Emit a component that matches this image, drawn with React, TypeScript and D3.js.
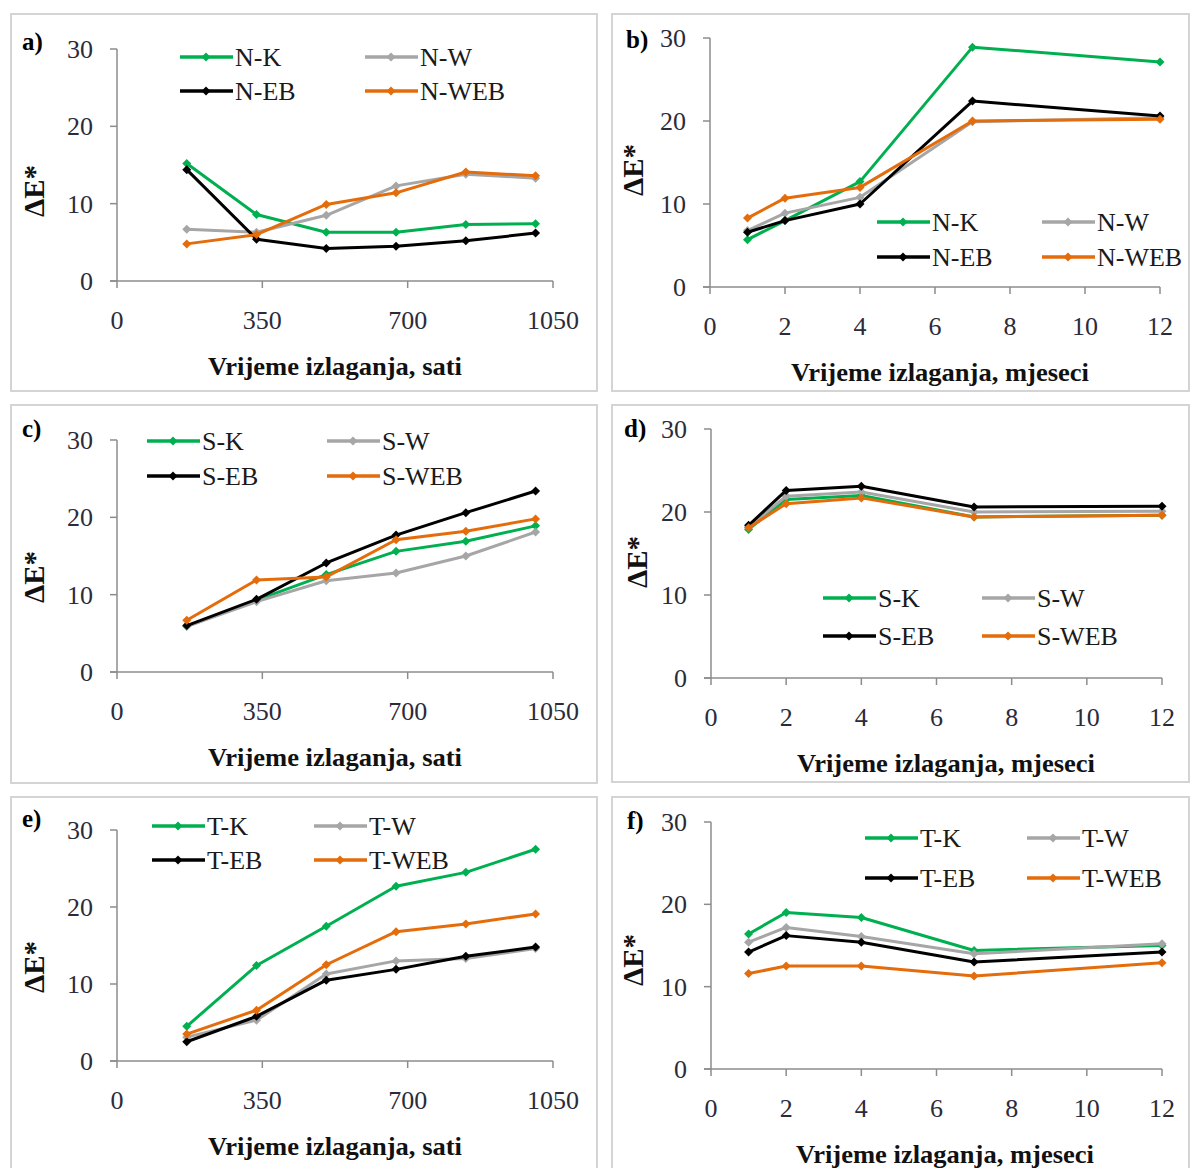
import React from "react";
import * as d3 from "d3";

// ---- data ----
const hours = [168, 336, 504, 672, 840, 1008];
const months = [1, 2, 4, 7, 12];
const hourTicks = [0, 350, 700, 1050];
const monthTicks = [0, 2, 4, 6, 8, 10, 12];
const yTicks = [0, 10, 20, 30];
const suffixes = ["K", "W", "EB", "WEB"];
const colors = ["#00b050", "#a6a6a6", "#000000", "#e46c0a"];

const nK_h = [15.2, 8.6, 6.3, 6.3, 7.3, 7.4];
const nW_h = [6.7, 6.3, 8.5, 12.3, 13.8, 13.3];
const nEB_h = [14.4, 5.4, 4.2, 4.5, 5.2, 6.2];
const nWEB_h = [4.8, 6.0, 9.9, 11.4, 14.1, 13.6];

const nK_m = [5.7, 8.0, 12.7, 28.9, 27.1];
const nW_m = [6.8, 8.9, 10.8, 19.9, 20.4];
const nEB_m = [6.6, 8.0, 10.0, 22.4, 20.6];
const nWEB_m = [8.3, 10.7, 12.0, 20.0, 20.2];

const sK_h = [5.9, 9.3, 12.6, 15.6, 16.9, 18.9];
const sW_h = [5.9, 9.1, 11.8, 12.8, 15.0, 18.1];
const sEB_h = [6.0, 9.4, 14.1, 17.7, 20.6, 23.4];
const sWEB_h = [6.7, 11.9, 12.3, 17.1, 18.2, 19.8];

const sK_m = [17.9, 21.5, 22.0, 19.4, 19.6];
const sW_m = [18.2, 21.9, 22.4, 20.0, 20.1];
const sEB_m = [18.4, 22.6, 23.1, 20.6, 20.7];
const sWEB_m = [18.1, 21.0, 21.7, 19.4, 19.6];

const tK_h = [4.5, 12.4, 17.5, 22.7, 24.5, 27.5];
const tW_h = [3.1, 5.3, 11.3, 13.0, 13.3, 14.6];
const tEB_h = [2.5, 5.8, 10.5, 11.9, 13.6, 14.8];
const tWEB_h = [3.5, 6.6, 12.5, 16.8, 17.8, 19.1];

const tK_m = [16.4, 19.0, 18.4, 14.4, 15.0];
const tW_m = [15.4, 17.2, 16.1, 14.0, 15.2];
const tEB_m = [14.2, 16.2, 15.4, 13.0, 14.2];
const tWEB_m = [11.6, 12.5, 12.5, 11.3, 12.9];

const xTitleHours = "Vrijeme izlaganja, sati";
const xTitleMonths = "Vrijeme izlaganja, mjeseci";
const yTitle = "ΔE*";

// ---- layout ----
type Panel = {
  label: string;
  prefix: string;
  frame: [number, number, number, number];
  xs: number[];
  series: number[][];
  xDomain: [number, number];
  xTicks: number[];
  xRange: [number, number];
  yRange: [number, number];
  xTitle: string;
  titleX: number;
  titleW: number;
  labelPos: [number, number];
  yTitlePos: [number, number];
  legend: [number, number, number, number];
};

const panels: Panel[] = [
  {
    label: "a)", prefix: "N", frame: [11, 14, 597, 391], xs: hours,
    series: [nK_h, nW_h, nEB_h, nWEB_h], xDomain: [0, 1050], xTicks: hourTicks,
    xRange: [117, 553], yRange: [281, 49], xTitle: xTitleHours, titleX: 335, titleW: 254,
    labelPos: [22, 50], yTitlePos: [44, 191], legend: [180, 365, 57, 91],
  },
  {
    label: "b)", prefix: "N", frame: [612, 14, 1189, 391], xs: months,
    series: [nK_m, nW_m, nEB_m, nWEB_m], xDomain: [0, 12], xTicks: monthTicks,
    xRange: [710, 1160], yRange: [287, 38], xTitle: xTitleMonths, titleX: 940, titleW: 298,
    labelPos: [626, 48], yTitlePos: [643, 170], legend: [877, 1042, 222, 257],
  },
  {
    label: "c)", prefix: "S", frame: [11, 405, 597, 783], xs: hours,
    series: [sK_h, sW_h, sEB_h, sWEB_h], xDomain: [0, 1050], xTicks: hourTicks,
    xRange: [117, 553], yRange: [672, 440], xTitle: xTitleHours, titleX: 335, titleW: 254,
    labelPos: [22, 437], yTitlePos: [44, 577], legend: [147, 327, 441, 476],
  },
  {
    label: "d)", prefix: "S", frame: [612, 405, 1189, 782], xs: months,
    series: [sK_m, sW_m, sEB_m, sWEB_m], xDomain: [0, 12], xTicks: monthTicks,
    xRange: [711, 1162], yRange: [678, 429], xTitle: xTitleMonths, titleX: 946, titleW: 298,
    labelPos: [624, 437], yTitlePos: [647, 562], legend: [823, 982, 598, 636],
  },
  {
    label: "e)", prefix: "T", frame: [11, 797, 597, 1175], xs: hours,
    series: [tK_h, tW_h, tEB_h, tWEB_h], xDomain: [0, 1050], xTicks: hourTicks,
    xRange: [117, 553], yRange: [1061, 830], xTitle: xTitleHours, titleX: 335, titleW: 254,
    labelPos: [22, 827], yTitlePos: [44, 967], legend: [152, 314, 826, 860],
  },
  {
    label: "f)", prefix: "T", frame: [612, 797, 1189, 1175], xs: months,
    series: [tK_m, tW_m, tEB_m, tWEB_m], xDomain: [0, 12], xTicks: monthTicks,
    xRange: [711, 1162], yRange: [1069, 822], xTitle: xTitleMonths, titleX: 945, titleW: 298,
    labelPos: [627, 829], yTitlePos: [643, 960], legend: [865, 1027, 838, 878],
  },
];

const SERIF = "'Liberation Serif', 'Times New Roman', serif";
const TICK_COLOR = "#2b2b3a";
const AXIS_COLOR = "#8c8c8c";

function Marker({ x, y, c }: { x: number; y: number; c: string }) {
  const s = 4.5;
  return (
    <path d={`M${x},${y - s}L${x + s},${y}L${x},${y + s}L${x - s},${y}Z`} fill={c} />
  );
}

function PanelView({ p }: { p: Panel }) {
  const x = d3.scaleLinear().domain(p.xDomain).range(p.xRange);
  const y = d3.scaleLinear().domain([0, 30]).range(p.yRange);
  const line = d3
    .line<[number, number]>()
    .x((d) => x(d[0]))
    .y((d) => y(d[1]));
  const [fx0, fy0, fx1, fy1] = p.frame;
  const [lx1, lx2, ly1, ly2] = p.legend;
  const legendPos: [number, number][] = [
    [lx1, ly1],
    [lx2, ly1],
    [lx1, ly2],
    [lx2, ly2],
  ];
  const y0 = y(0);
  const tickBase = y0 + 48;
  return (
    <g>
      <rect x={fx0} y={fy0} width={fx1 - fx0} height={fy1 - fy0} fill="#fff" stroke="#d4d4d4" strokeWidth={2} />
      <line x1={x(0)} x2={x(0)} y1={y(30)} y2={y0} stroke={AXIS_COLOR} strokeWidth={1.5} />
      <line x1={x(0) - 7} x2={p.xRange[1]} y1={y0} y2={y0} stroke={AXIS_COLOR} strokeWidth={1.5} />
      {yTicks.map((t) => (
        <g key={"y" + t}>
          <line x1={x(0) - 7} x2={x(0)} y1={y(t)} y2={y(t)} stroke={AXIS_COLOR} strokeWidth={1.5} />
          <text x={x(0) - 24} y={y(t) + 9} textAnchor="end" fontFamily={SERIF} fontSize={26} fill={TICK_COLOR}>
            {t}
          </text>
        </g>
      ))}
      {p.xTicks.map((t) => (
        <g key={"x" + t}>
          <line x1={x(t)} x2={x(t)} y1={y0} y2={y0 + 7} stroke={AXIS_COLOR} strokeWidth={1.5} />
          <text x={x(t)} y={tickBase} textAnchor="middle" fontFamily={SERIF} fontSize={26} fill={TICK_COLOR}>
            {t}
          </text>
        </g>
      ))}
      <text
        x={p.titleX}
        y={tickBase + 46}
        textAnchor="middle"
        fontFamily={SERIF}
        fontWeight="bold"
        fontSize={25}
        fill="#111"
        textLength={p.titleW}
        lengthAdjust="spacingAndGlyphs"
      >
        {p.xTitle}
      </text>
      <text
        transform={`translate(${p.yTitlePos[0]},${p.yTitlePos[1]}) rotate(-90)`}
        textAnchor="middle"
        fontFamily={SERIF}
        fontWeight="bold"
        fontSize={29}
        fill="#111"
      >
        {yTitle}
      </text>
      <text x={p.labelPos[0]} y={p.labelPos[1]} fontFamily={SERIF} fontWeight="bold" fontSize={25} fill="#000">
        {p.label}
      </text>
      {p.series.map((vals, i) => {
        const pts = p.xs.map((xv, j) => [xv, vals[j]] as [number, number]);
        return (
          <g key={"s" + i}>
            <path d={line(pts) || ""} fill="none" stroke={colors[i]} strokeWidth={3} strokeLinejoin="round" />
            {pts.map((d, j) => (
              <Marker key={j} x={x(d[0])} y={y(d[1])} c={colors[i]} />
            ))}
          </g>
        );
      })}
      {suffixes.map((s, i) => {
        const [lx, ly] = legendPos[i];
        return (
          <g key={"l" + i}>
            <line x1={lx} x2={lx + 53} y1={ly} y2={ly} stroke={colors[i]} strokeWidth={3.5} />
            <Marker x={lx + 26} y={ly} c={colors[i]} />
            <text x={lx + 55} y={ly + 9} fontFamily={SERIF} fontSize={26} fill="#1a1a1a">
              {p.prefix + "-" + s}
            </text>
          </g>
        );
      })}
    </g>
  );
}

export default function App() {
  return (
    <svg width={1192} height={1168} style={{ position: "absolute", left: 0, top: 0, background: "#fff" }}>
      <rect x={0} y={0} width={1192} height={1168} fill="#fff" />
      {panels.map((p) => (
        <PanelView key={p.label} p={p} />
      ))}
    </svg>
  );
}
